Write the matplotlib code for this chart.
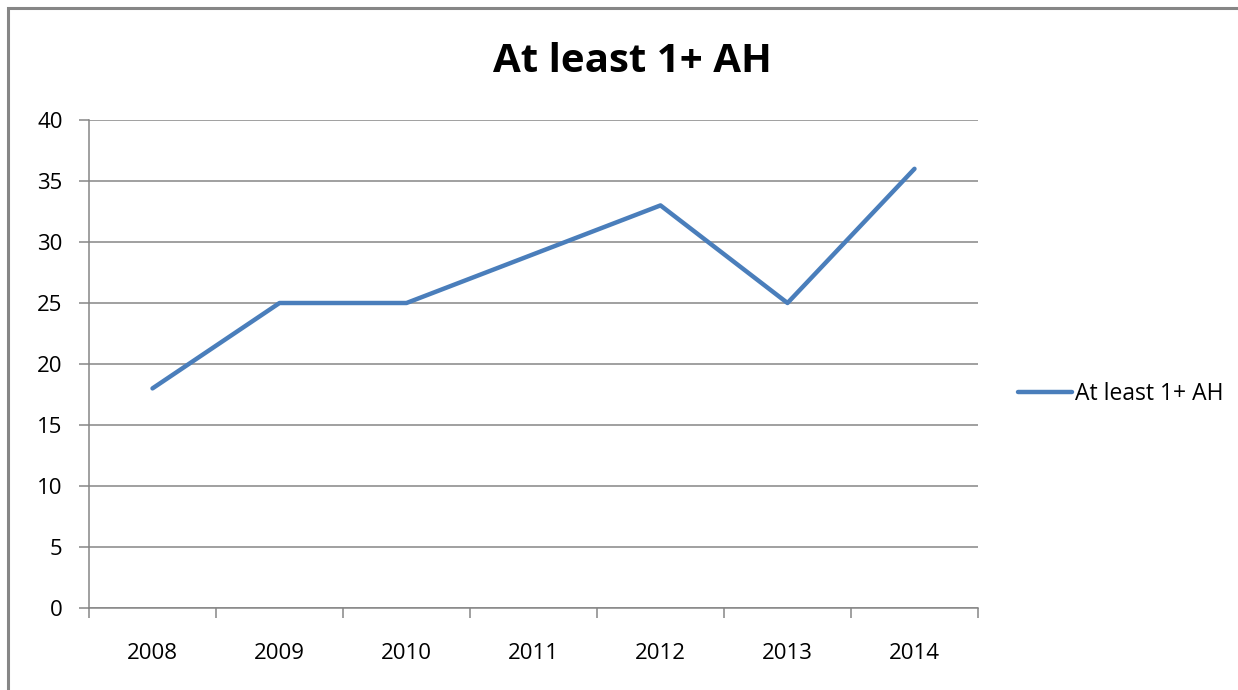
import numpy as np
import matplotlib
matplotlib.use("Agg")
import matplotlib.pyplot as plt
from matplotlib.patches import Rectangle

years = ["2008", "2009", "2010", "2011", "2012", "2013", "2014"]
values = [18, 25, 25, 29, 33, 25, 36]
series_name = "At least 1+ AH"
chart_title = "At least 1+ AH"

plt.rcParams['font.family'] = ['Open Sans', 'DejaVu Sans']

W, H = 1238, 690
fig = plt.figure(figsize=(W / 100, H / 100), dpi=100)

# outer chart border (only top and left visible in the reference)
fig.patches.append(Rectangle((8 / W, -0.1), 1.2, 1 - 8 / H + 0.1, transform=fig.transFigure,
                             fill=False, edgecolor='#868686', linewidth=2.2))

ax = fig.add_axes([89 / W, (H - 608) / H, (978 - 89) / W, (608 - 120) / H])
x = np.arange(len(years))
ax.plot(x, values, color='#4A7EBB', linewidth=3.2, label=series_name, solid_capstyle='round')

ax.set_xlim(-0.5, len(years) - 0.5)
ax.set_ylim(0, 40)
ax.set_yticks(np.arange(0, 41, 5))
ax.yaxis.grid(True, color='#868686', linewidth=1.1)
ax.set_axisbelow(True)

ax.set_xticks(np.arange(-0.5, len(years), 1.0))
ax.set_xticklabels([])
ax.set_xticks(x, minor=True)
ax.set_xticklabels(years, minor=True)
ax.tick_params(axis='x', which='major', length=7, width=1.1, color='#868686', direction='out')
ax.tick_params(axis='x', which='minor', length=0, pad=25, labelsize=16)
ax.tick_params(axis='y', length=7, width=1.1, color='#868686', pad=12, labelsize=16)

for s in ['top', 'right']:
    ax.spines[s].set_visible(False)
for s in ['left', 'bottom']:
    ax.spines[s].set_color('#868686')
    ax.spines[s].set_linewidth(1.1)

fig.text(632 / W, 1 - 62 / H, chart_title, ha='center', va='center',
         fontsize=29, fontweight='bold')

ax.legend(loc='center left', bbox_to_anchor=(1018 / W, 1 - 394 / H),
          bbox_transform=fig.transFigure, frameon=False, fontsize=16.5,
          handlelength=2.36, handletextpad=0.12, borderpad=0, borderaxespad=0)

fig.savefig("out.png", dpi=100)
